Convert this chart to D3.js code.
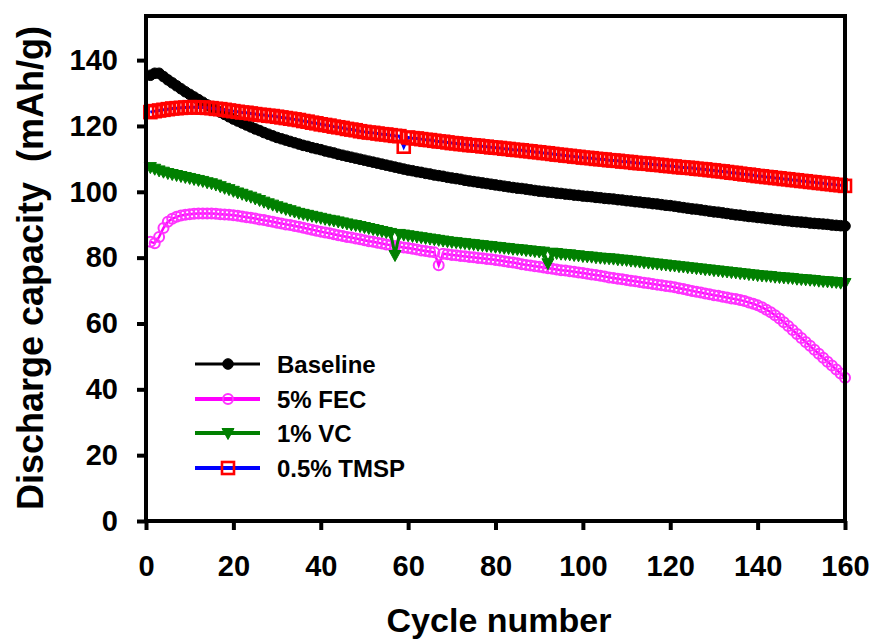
<!DOCTYPE html>
<html>
<head>
<meta charset="utf-8">
<script src="https://cdn.jsdelivr.net/npm/d3@7"></script>
<style>
  body { margin: 0; background: #fff; }
  svg { display: block; font-family: "Liberation Sans", Arial, sans-serif; font-weight: bold; }
</style>
</head>
<body>
<svg id="chart" width="875" height="643"></svg>
<script>
// discharge capacity (mAh/g) for cycles 1..160
const baseline = [
  135.4, 136.0, 136.0, 135.0, 134.0, 133.1, 132.2, 131.3, 130.4, 129.6,
  128.8, 128.0, 127.2, 126.4, 125.6, 124.9, 124.2, 123.5, 122.8, 122.1,
  121.5, 120.9, 120.3, 119.7, 119.1, 118.6, 118.0, 117.5, 117.0, 116.5,
  116.1, 115.7, 115.3, 114.9, 114.5, 114.1, 113.8, 113.4, 113.1, 112.8,
  112.4, 112.1, 111.8, 111.4, 111.1, 110.8, 110.5, 110.2, 109.9, 109.6,
  109.3, 109.0, 108.7, 108.4, 108.1, 107.8, 107.5, 107.2, 106.9, 106.6,
  106.4, 106.1, 105.9, 105.6, 105.4, 105.1, 104.9, 104.7, 104.4, 104.2,
  104.0, 103.8, 103.5, 103.3, 103.1, 102.9, 102.7, 102.5, 102.3, 102.1,
  101.9, 101.7, 101.5, 101.3, 101.1, 101.0, 100.8, 100.6, 100.4, 100.2,
  100.1, 99.9, 99.8, 99.6, 99.5, 99.3, 99.2, 99.0, 98.9, 98.7,
  98.6, 98.5, 98.3, 98.2, 98.0, 97.9, 97.8, 97.6, 97.5, 97.3,
  97.2, 97.0, 96.9, 96.7, 96.6, 96.4, 96.3, 96.1, 95.9, 95.8,
  95.6, 95.4, 95.2, 95.0, 94.8, 94.7, 94.5, 94.3, 94.1, 93.9,
  93.8, 93.6, 93.4, 93.2, 93.0, 92.9, 92.7, 92.5, 92.4, 92.2,
  92.1, 91.9, 91.8, 91.6, 91.5, 91.3, 91.2, 91.0, 90.9, 90.8,
  90.7, 90.5, 90.4, 90.3, 90.2, 90.1, 89.9, 89.8, 89.7, 89.6
];

const fec = [
  84.8, 84.4, 86.3, 89.0, 90.9, 91.8, 92.4, 92.8, 93.0, 93.2,
  93.3, 93.4, 93.4, 93.4, 93.4, 93.3, 93.2, 93.1, 93.0, 92.9,
  92.7, 92.5, 92.3, 92.1, 91.9, 91.6, 91.4, 91.1, 90.9, 90.6,
  90.4, 90.1, 89.9, 89.6, 89.4, 89.1, 88.8, 88.5, 88.2, 87.9,
  87.6, 87.4, 87.1, 86.8, 86.6, 86.3, 86.1, 85.8, 85.6, 85.3,
  85.0, 84.8, 84.5, 84.3, 84.0, 83.8, 83.5, 83.3, 83.1, 82.9,
  82.7, 82.5, 82.2, 82.0, 81.8, 81.6, 77.7, 81.2, 81.0, 80.8,
  80.7, 80.5, 80.4, 80.2, 80.1, 79.9, 79.8, 79.6, 79.5, 79.3,
  79.1, 78.9, 78.7, 78.5, 78.3, 78.0, 77.8, 77.6, 77.4, 77.2,
  77.0, 76.8, 76.6, 76.4, 76.2, 76.1, 75.9, 75.7, 75.5, 75.3,
  75.1, 74.9, 74.7, 74.5, 74.3, 74.0, 73.8, 73.6, 73.4, 73.2,
  73.0, 72.8, 72.6, 72.4, 72.2, 72.0, 71.8, 71.6, 71.4, 71.2,
  71.0, 70.7, 70.5, 70.2, 69.9, 69.6, 69.4, 69.1, 68.9, 68.6,
  68.4, 68.1, 67.9, 67.6, 67.4, 67.1, 66.8, 66.4, 66.0, 65.5,
  64.9, 64.2, 63.4, 62.5, 61.5, 60.4, 59.2, 58.0, 56.8, 55.6,
  54.4, 53.2, 52.0, 50.8, 49.6, 48.4, 47.2, 46.0, 44.8, 43.5
];

const vc = [
  107.5, 107.0, 106.5, 106.1, 105.7, 105.4, 105.1, 104.8, 104.5, 104.2,
  103.9, 103.6, 103.3, 102.9, 102.6, 102.2, 101.7, 101.2, 100.8, 100.3,
  99.8, 99.4, 98.9, 98.5, 98.0, 97.5, 97.0, 96.5, 96.1, 95.6,
  95.2, 94.8, 94.4, 94.0, 93.6, 93.3, 93.0, 92.7, 92.4, 92.1,
  91.8, 91.5, 91.3, 91.0, 90.7, 90.4, 90.1, 89.9, 89.6, 89.3,
  89.0, 88.7, 88.4, 88.1, 87.8, 87.5, 80.8, 87.2, 87.0, 86.8,
  86.6, 86.4, 86.2, 86.0, 85.8, 85.6, 85.4, 85.2, 85.0, 84.8,
  84.7, 84.5, 84.4, 84.2, 84.1, 83.9, 83.8, 83.6, 83.5, 83.3,
  83.2, 83.0, 82.9, 82.7, 82.6, 82.5, 82.3, 82.2, 82.0, 81.9,
  81.8, 78.3, 81.5, 81.4, 81.2, 81.1, 81.0, 80.8, 80.7, 80.5,
  80.4, 80.3, 80.1, 80.0, 79.9, 79.8, 79.7, 79.5, 79.4, 79.3,
  79.1, 79.0, 78.8, 78.6, 78.5, 78.3, 78.2, 78.0, 77.9, 77.7,
  77.6, 77.4, 77.3, 77.1, 77.0, 76.8, 76.7, 76.5, 76.4, 76.2,
  76.1, 75.9, 75.8, 75.6, 75.5, 75.3, 75.2, 75.0, 74.9, 74.7,
  74.6, 74.5, 74.4, 74.2, 74.1, 74.0, 73.9, 73.8, 73.6, 73.5,
  73.4, 73.3, 73.2, 73.0, 72.9, 72.8, 72.7, 72.6, 72.4, 72.3
];

const tmsp = [
  124.2, 124.5, 124.7, 124.9, 125.1, 125.3, 125.4, 125.5, 125.6, 125.7,
  125.7, 125.6, 125.6, 125.5, 125.4, 125.2, 125.1, 124.9, 124.7, 124.5,
  124.3, 124.1, 124.0, 123.8, 123.6, 123.4, 123.3, 123.1, 123.0, 122.8,
  122.6, 122.4, 122.2, 122.0, 121.8, 121.5, 121.3, 121.0, 120.8, 120.5,
  120.3, 120.1, 119.8, 119.6, 119.4, 119.1, 118.9, 118.7, 118.4, 118.2,
  118.0, 117.9, 117.7, 117.5, 117.4, 117.2, 117.0, 116.9, 113.7, 116.5,
  116.3, 116.2, 116.0, 115.8, 115.7, 115.5, 115.3, 115.2, 115.0, 114.8,
  114.7, 114.5, 114.4, 114.2, 114.1, 114.0, 113.8, 113.7, 113.5, 113.4,
  113.3, 113.1, 113.0, 112.8, 112.7, 112.6, 112.4, 112.3, 112.1, 112.0,
  111.8, 111.7, 111.5, 111.3, 111.2, 111.0, 110.9, 110.7, 110.6, 110.4,
  110.3, 110.2, 110.0, 109.9, 109.8, 109.6, 109.5, 109.4, 109.2, 109.1,
  109.0, 108.8, 108.7, 108.6, 108.5, 108.3, 108.2, 108.1, 107.9, 107.8,
  107.7, 107.5, 107.4, 107.3, 107.2, 107.0, 106.9, 106.8, 106.6, 106.5,
  106.3, 106.2, 106.0, 105.8, 105.7, 105.5, 105.3, 105.2, 105.0, 104.8,
  104.7, 104.5, 104.4, 104.2, 104.1, 103.9, 103.8, 103.6, 103.5, 103.3,
  103.2, 103.0, 102.9, 102.7, 102.6, 102.4, 102.3, 102.1, 102.0, 101.8
];

const seriesNames = ['Baseline', '5% FEC', '1% VC', '0.5% TMSP'];
const xTicks = [0, 20, 40, 60, 80, 100, 120, 140, 160];
const yTicks = [0, 20, 40, 60, 80, 100, 120, 140];

const width = 875, height = 643;
const margin = {top: 16, right: 30, bottom: 122, left: 146};

const svg = d3.select('#chart');

const x = d3.scaleLinear().domain([0, 160]).range([margin.left, width - margin.right]);
const y = d3.scaleLinear().domain([0, 153.4]).range([height - margin.bottom, margin.top]);

const series = [
  {name: seriesNames[0], values: baseline, line: '#000000', lw: 2, marker: 'circle', r: 5.3, stroke: '#000000', fill: '#000000', sw: 1},
  {name: seriesNames[1], values: fec, line: '#ff00ff', lw: 2.5, marker: 'circle', r: 5, stroke: '#ff33ff', fill: 'none', sw: 2},
  {name: seriesNames[2], values: vc, line: '#008000', lw: 3, marker: 'triangle', stroke: '#008000', fill: '#008000', sw: 1},
  {name: seriesNames[3], values: tmsp, line: '#0000ff', lw: 3, marker: 'square', stroke: '#ff0000', fill: 'none', sw: 2.6}
];

function drawMarker(sel, s) {
  if (s.marker === 'circle') {
    sel.append('circle').attr('r', s.r)
      .attr('fill', s.fill).attr('stroke', s.stroke).attr('stroke-width', s.sw);
  } else if (s.marker === 'triangle') {
    sel.append('path').attr('d', 'M-6,-4.5L6,-4.5L0,6.5Z')
      .attr('fill', s.fill).attr('stroke', s.stroke).attr('stroke-width', s.sw);
  } else {
    sel.append('rect').attr('x', -6).attr('y', -6).attr('width', 12).attr('height', 12)
      .attr('fill', s.fill).attr('stroke', s.stroke).attr('stroke-width', s.sw);
  }
}

const line = d3.line().x((d, i) => x(i + 1)).y(d => y(d));

series.forEach(s => {
  const g = svg.append('g');
  g.append('path')
    .datum(s.values)
    .attr('fill', 'none')
    .attr('stroke', s.line)
    .attr('stroke-width', s.lw)
    .attr('d', line);
  g.selectAll('g.pt')
    .data(s.values)
    .enter()
    .append('g')
    .attr('class', 'pt')
    .attr('transform', (d, i) => `translate(${x(i + 1)},${y(d)})`)
    .each(function() { drawMarker(d3.select(this), s); });
});

// frame
svg.append('rect')
  .attr('x', x(0)).attr('y', margin.top)
  .attr('width', x(160) - x(0)).attr('height', y(0) - margin.top)
  .attr('fill', 'none').attr('stroke', '#000').attr('stroke-width', 4);

const xAxis = svg.append('g')
  .attr('transform', `translate(0,${y(0)})`)
  .call(d3.axisBottom(x).tickValues(xTicks).tickSize(9).tickSizeOuter(0));
xAxis.select('.domain').remove();
xAxis.selectAll('line').attr('stroke-width', 4);
xAxis.selectAll('text').attr('y', 55).attr('dy', 0)
  .attr('font-size', 29).attr('font-family', null).attr('fill', '#000');

const yAxis = svg.append('g')
  .attr('transform', `translate(${x(0)},0)`)
  .call(d3.axisLeft(y).tickValues(yTicks).tickSize(9).tickPadding(19).tickSizeOuter(0));
yAxis.select('.domain').remove();
yAxis.selectAll('line').attr('stroke-width', 4);
yAxis.selectAll('text').attr('font-size', 29).attr('font-family', null).attr('fill', '#000');

svg.append('text')
  .attr('transform', 'rotate(-90)')
  .attr('x', -268).attr('y', 43)
  .attr('text-anchor', 'middle')
  .attr('font-size', 36)
  .style('white-space', 'pre')
  .text('Discharge capacity  (mAh/g)');

svg.append('text')
  .attr('x', 499).attr('y', 632)
  .attr('text-anchor', 'middle')
  .attr('font-size', 34)
  .text('Cycle number');

// legend
const legendRows = [364, 399, 433, 468];
series.forEach((s, i) => {
  const g = svg.append('g').attr('transform', `translate(0,${legendRows[i]})`);
  g.append('line').attr('x1', 195).attr('x2', 260)
    .attr('stroke', s.line).attr('stroke-width', i === 0 ? 3 : 4);
  const m = g.append('g').attr('transform', 'translate(228,0)');
  drawMarker(m, s);
  g.append('text').attr('x', 277).attr('dy', '0.36em')
    .attr('font-size', 24).text(s.name);
});
</script>
</body>
</html>
